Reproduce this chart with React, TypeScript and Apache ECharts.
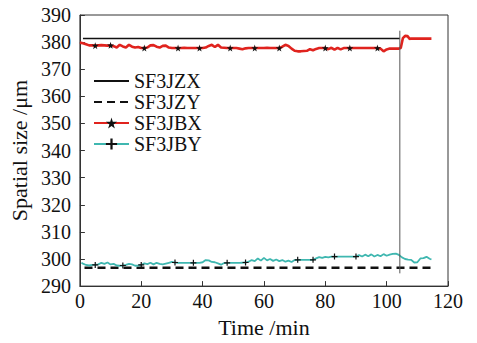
import React, { useEffect, useRef } from "react";
import * as echarts from "echarts";

const xTicks = { min: 0, max: 120, interval: 20 };
const yTicks = { min: 290, max: 390, interval: 10 };

const jzxLine = [[1, 381.3], [104.3, 381.3]];
const jzyLine = [[1.5, 296.8], [114.6, 296.8]];
const cutLine = [[104.3, 384.2], [104.3, 294.7]];

const redTimes = [
  0, 1, 2, 3, 4, 5, 6, 7, 8, 9, 10, 11, 12, 13, 14, 15, 16, 17, 18, 19, 20,
  21, 22, 23, 24, 25, 26, 27, 28, 29, 30, 31, 32, 33, 34, 35, 36, 37, 38, 39,
  40, 41, 42, 43, 44, 45, 46, 47, 48, 49, 50, 51, 52, 53, 54, 55, 56, 57, 58,
  59, 60, 61, 62, 63, 64, 65, 66, 67, 68, 69, 70, 71, 72, 73, 74, 75, 76, 77,
  78, 79, 80, 81, 82, 83, 84, 85, 86, 87, 88, 89, 90, 91, 92, 93, 94, 95, 96,
  97, 98, 99, 100, 101, 102, 103, 104, 104.6, 105.3, 106, 106.8, 107.5, 108,
  110, 112, 114.6,
];
const redValues = [
  379.8, 379.6, 379.2, 378.8, 378.8, 378.7, 378.8, 378.9, 378.8, 378.7, 378.8,
  378.5, 378.0, 379.0, 378.4, 378.0, 379.0, 378.3, 378.0, 378.2, 377.8, 377.8,
  378.0, 378.8, 378.9, 378.3, 378.0, 378.6, 378.7, 378.0, 377.8, 377.8, 377.8,
  377.8, 377.9, 377.8, 377.8, 377.8, 377.8, 377.8, 377.8, 378.0, 378.6, 379.0,
  378.2, 379.0, 378.0, 377.9, 377.8, 377.8, 377.8, 377.8, 377.6, 377.4, 377.7,
  377.8, 377.8, 377.8, 377.8, 377.8, 377.8, 377.9, 377.8, 377.8, 377.8, 377.8,
  378.3, 379.0, 378.6, 377.6, 376.8, 376.6, 376.6, 376.7, 376.8, 377.4, 377.0,
  377.5, 377.8, 377.8, 377.8, 377.4, 377.9, 377.2, 377.9, 377.3, 377.8, 377.8,
  377.8, 377.8, 377.8, 377.8, 377.8, 377.8, 377.8, 377.8, 377.8, 377.8, 377.6,
  376.6, 377.3, 377.6, 377.6, 377.6, 377.6, 377.8, 381.5, 382.3, 382.2, 381.2,
  381.3, 381.3, 381.3, 381.3,
];
const redMarkers = [5, 10, 21, 32, 39, 49, 57, 65, 80, 88, 97];

const cyanTimes = [
  0.5, 1, 2, 3, 4, 5, 6, 7, 8, 9, 10, 11, 12, 13, 14, 15, 16, 17, 18, 19, 20,
  21, 22, 23, 24, 25, 26, 27, 28, 29, 30, 31, 32, 35, 37, 39, 40, 41, 42, 43,
  44, 45, 46, 47, 48, 50, 52, 54, 55, 56, 57, 58, 59, 60, 61, 62, 63, 64, 65,
  66, 67, 68, 69, 70, 71, 73, 76, 77, 78, 79, 80, 81, 82, 83, 86, 90, 91, 92,
  93, 94, 95, 96, 97, 98, 99, 100, 101, 102, 103, 104, 105, 106, 107, 108,
  109, 110, 111, 112, 113, 114, 114.6,
];
const cyanValues = [
  298.6, 298.3, 297.8, 297.6, 297.8, 297.8, 298.0, 298.6, 298.2, 298.7, 298.0,
  298.2, 297.6, 297.5, 297.6, 297.8, 298.2, 298.0, 297.5, 297.6, 297.8, 298.4,
  298.1, 298.6, 298.0, 298.6, 298.2, 298.0, 298.3, 298.6, 298.9, 298.7, 298.6,
  298.6, 298.6, 298.6, 298.8, 299.6, 299.5, 298.9, 298.8, 298.4, 297.9, 298.5,
  298.6, 298.6, 298.6, 298.7, 299.0, 299.6, 299.2, 300.2, 299.4, 300.4, 299.5,
  300.0, 299.3, 299.8, 299.2, 299.6, 299.0, 299.4, 298.9, 299.6, 299.7, 299.7,
  299.7, 300.2, 300.7, 300.4, 300.8, 300.6, 300.9, 300.9, 300.9, 300.9, 301.4,
  300.9, 301.6, 301.0, 301.7, 300.9, 301.5, 301.0, 301.8, 301.2, 301.6, 301.9,
  302.0, 301.5, 300.6, 300.0, 299.8, 299.7, 298.7, 298.8, 300.2, 300.3, 300.8,
  300.1, 299.8,
];
const cyanMarkers = [5, 14, 20, 31, 37, 48, 54, 71, 76, 83, 90];

const seriesNames = ["SF3JZX", "SF3JZY", "SF3JBX", "SF3JBY"];

const STAR =
  "path://M50,0 L61,35 L98,35 L68,57 L79,91 L50,70 L21,91 L32,57 L2,35 L39,35 Z";
const PLUS = "path://M4,0H6V4H10V6H6V10H4V6H0V4H4Z";

const FONT = "Liberation Serif";

function withMarkers(times: number[], values: number[], marks: number[]) {
  return times.map((t, i) =>
    marks.includes(t)
      ? { value: [t, values[i]] }
      : { value: [t, values[i]], symbol: "none" }
  );
}

export default function App() {
  const ref = useRef<HTMLDivElement>(null);
  useEffect(() => {
    if (!ref.current) return;
    const chart = echarts.init(ref.current, undefined, { renderer: "svg" });
    chart.setOption({
      animation: false,
      backgroundColor: "#ffffff",
      textStyle: { fontFamily: FONT },
      grid: {
        left: 75,
        top: 15,
        width: 373,
        height: 278,
        show: true,
        borderColor: "#333",
        borderWidth: 1,
        backgroundColor: "transparent",
      },
      legend: {
        data: [
          { name: seriesNames[0], itemStyle: { opacity: 0 } },
          { name: seriesNames[1], itemStyle: { opacity: 0 } },
          { name: seriesNames[2] },
          { name: seriesNames[3] },
        ],
        orient: "vertical",
        left: 88,
        top: 66,
        padding: 5,
        itemWidth: 35,
        itemHeight: 14,
        itemGap: 1,
        textStyle: { fontFamily: FONT, fontSize: 20, color: "#111" },
        backgroundColor: "transparent",
      },
      xAxis: {
        type: "value",
        min: xTicks.min,
        max: xTicks.max,
        interval: xTicks.interval,
        name: "Time /min",
        nameLocation: "middle",
        nameGap: 28,
        nameTextStyle: { fontFamily: FONT, fontSize: 22, color: "#111" },
        axisLine: { show: true, lineStyle: { color: "#333", width: 1 } },
        axisTick: { show: true, inside: true, length: 5, lineStyle: { color: "#333" } },
        axisLabel: { fontFamily: FONT, fontSize: 20, color: "#111", margin: 5 },
        splitLine: { show: false },
      },
      yAxis: {
        type: "value",
        min: yTicks.min,
        max: yTicks.max,
        interval: yTicks.interval,
        name: "Spatial size /μm",
        nameLocation: "middle",
        nameGap: 45,
        nameRotate: 90,
        nameTextStyle: { fontFamily: FONT, fontSize: 22, color: "#111" },
        axisLine: { show: true, lineStyle: { color: "#333", width: 1 } },
        axisTick: { show: true, inside: true, length: 5, lineStyle: { color: "#333" } },
        axisLabel: { fontFamily: FONT, fontSize: 20, color: "#111", margin: 9 },
        splitLine: { show: false },
      },
      series: [
        {
          name: "SF3JZX",
          type: "line",
          data: jzxLine,
          symbol: "none",
          lineStyle: { color: "#111", width: 1.5 },
          itemStyle: { color: "#111" },
          z: 3,
        },
        {
          name: "SF3JZY",
          type: "line",
          data: jzyLine,
          symbol: "none",
          lineStyle: { color: "#111", width: 2.5, type: [8, 5] },
          itemStyle: { color: "#111" },
          z: 3,
        },
        {
          name: "SF3JBX",
          type: "line",
          data: withMarkers(redTimes, redValues, redMarkers),
          symbol: STAR,
          symbolSize: 7,
          showSymbol: true,
          lineStyle: { color: "#e0231e", width: 2.6 },
          itemStyle: { color: "#111" },
          z: 4,
        },
        {
          name: "SF3JBY",
          type: "line",
          data: withMarkers(cyanTimes, cyanValues, cyanMarkers),
          symbol: PLUS,
          symbolSize: 6,
          showSymbol: true,
          lineStyle: { color: "#3fb7b0", width: 1.8 },
          itemStyle: { color: "#111" },
          z: 4,
        },
        {
          name: "cut",
          type: "line",
          data: cutLine,
          symbol: "none",
          lineStyle: { color: "#555", width: 1 },
          z: 5,
        },
      ],
    });
    return () => chart.dispose();
  }, []);
  return (
    <div
      ref={ref}
      style={{ position: "absolute", left: 0, top: 0, width: 477, height: 343 }}
    />
  );
}
